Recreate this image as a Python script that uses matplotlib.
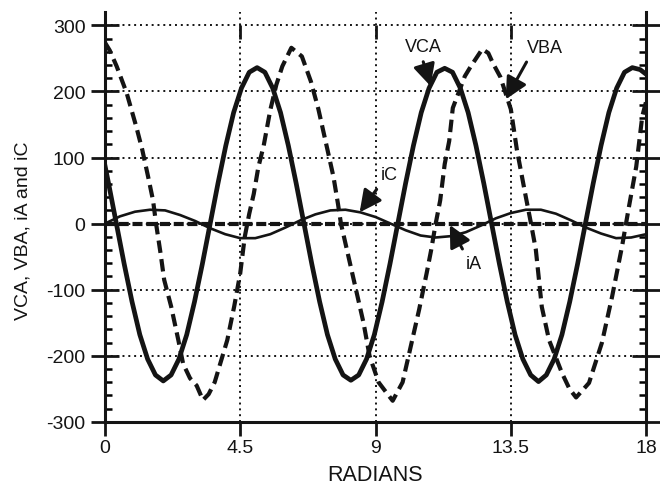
import numpy as np
import matplotlib
matplotlib.use("Agg")
import matplotlib.pyplot as plt

plt.rcParams['font.family'] = ['Liberation Sans', 'DejaVu Sans']
plt.rcParams['axes.unicode_minus'] = False

# --- data (x in radians) ---
vca_x = [0.00, 0.12, 0.38, 0.64, 0.90, 1.16, 1.42, 1.68, 1.94, 2.20, 2.46, 2.72,
         2.98, 3.24, 3.50, 3.76, 4.02, 4.28, 4.54, 4.80, 5.06, 5.32, 5.58, 5.84,
         6.10, 6.36, 6.62, 6.88, 7.14, 7.40, 7.66, 7.92, 8.18, 8.44, 8.70, 8.96,
         9.22, 9.48, 9.74, 10.00, 10.26, 10.52, 10.78, 11.04, 11.30, 11.56, 11.82,
         12.08, 12.34, 12.60, 12.86, 13.12, 13.38, 13.64, 13.90, 14.16, 14.42,
         14.68, 14.94, 15.20, 15.46, 15.72, 15.98, 16.24, 16.50, 16.76, 17.02,
         17.28, 17.54, 17.80, 18.00]
vca = [88, 61, 0, -61, -118, -168, -205, -229, -238, -229, -205, -168,
       -118, -61, 0, 61, 118, 168, 205, 229, 236, 229, 205, 168,
       118, 61, 0, -61, -118, -168, -205, -229, -237, -229, -205, -168,
       -118, -61, 0, 61, 118, 168, 205, 229, 235, 229, 205,
       168, 118, 61, 0, -61, -118, -168, -205, -229, -239,
       -229, -205, -168, -118, -61, 0, 61, 118, 168, 205,
       229, 236, 233, 226]

vba_x = [0.00, 0.16, 0.39, 0.72, 1.04, 1.24, 1.45, 1.60, 1.70, 1.85, 1.97, 2.20,
         2.44, 2.60, 2.83, 3.05, 3.26, 3.45, 3.65, 4.07, 4.30, 4.50, 4.65, 4.80,
         4.95, 5.10, 5.28, 5.50, 5.70, 5.90, 6.20, 6.55, 6.85, 7.10, 7.40, 7.60,
         7.75, 7.85, 8.05, 8.25, 8.45, 8.60, 8.80, 9.10, 9.35, 9.57, 9.90, 10.20,
         10.45, 10.70, 10.85, 11.00, 11.15, 11.30, 11.45, 11.57, 11.97, 12.17,
         12.55, 12.75, 12.90, 13.15, 13.50, 13.70, 14.00, 14.15, 14.33, 14.53,
         14.77, 15.20, 15.45, 15.67, 16.10, 16.53, 16.87, 17.20, 17.43, 17.67,
         17.87, 18.00]
vba = [274, 262, 238, 198, 147, 112, 68, 35, 0, -45, -85, -125,
       -176, -212, -234, -245, -267, -258, -240, -176, -125, -75, -20, 15,
       45, 85, 118, 172, 210, 238, 266, 253, 215, 173, 112, 71,
       30, 0, -40, -80, -120, -150, -200, -240, -255, -268, -240, -180,
       -130, -75, -40, 0, 35, 90, 125, 175, 223, 238,
       264, 258, 243, 222, 173, 112, 40, 5, -39, -126,
       -176, -226, -250, -263, -241, -180, -110, -34, 26, 86,
       162, 185]

ic_x = [0.0, 0.5, 1.0, 1.5, 2.0, 2.5, 3.0, 3.5, 4.0, 4.5, 5.0, 5.5, 6.0, 6.5,
        7.0, 7.5, 8.0, 8.5, 9.0, 9.5, 10.0, 10.5, 11.0, 11.5, 12.0, 12.5, 13.0,
        13.5, 14.0, 14.5, 15.0, 15.5, 16.0, 16.5, 17.0, 17.5, 18.0]
ic = [0, 11, 18, 21, 20, 13, 4, -7, -16, -22, -22, -16, -6, 5,
      14, 20, 21, 17, 10, 0, -10, -18, -21, -19, -13, -3, 8,
      16, 21, 21, 15, 5, -6, -15, -22, -21, -16]

ia_x = [0.0, 18.0]
ia = [0, 0]

xticks = [0, 4.5, 9, 13.5, 18]
xlabels = ['0', '4.5', '9', '13.5', '18']
yticks = [-300, -200, -100, 0, 100, 200, 300]
ylabels = ['-300', '-200', '-100', '0', '100', '200', '300']

# (label, text pos, arrow tip, relpos of arrow start on text)
notes = [('VCA', (10.58, 268), (10.83, 208), (0.45, 0.0)),
         ('VBA', (14.62, 267), (13.33, 188), (0.1, 0.0)),
         ('iC', (9.47, 74), (8.47, 17), (0.0, 0.0)),
         ('iA', (12.27, -61), (11.47, -2), (0.0, 1.0))]

INK = '#141414'

fig = plt.figure(figsize=(6.6, 4.85), dpi=100, facecolor='white')
ax = fig.add_axes([0.159, 0.128, 0.820, 0.845])

ax.set_xlim(0, 18)
ax.set_ylim(-300, 320)

# dotted grid
ax.set_xticks(xticks)
ax.set_xticklabels(xlabels)
ax.set_yticks(yticks)
ax.set_yticklabels(ylabels)
ax.set_yticks(np.arange(-300, 301, 20), minor=True)
ax.grid(True, which='major', color=INK, linestyle=(0, (1, 2)), linewidth=1.4, zorder=0)
ax.set_axisbelow(True)

# curves
ax.plot(ia_x, ia, color=INK, lw=3.0, linestyle=(0, (2.4, 0.9)), zorder=2)
ax.plot(ic_x, ic, color=INK, lw=1.9, zorder=3)
ax.plot(vba_x, vba, color=INK, lw=3.0, linestyle=(0, (3, 1.5)), zorder=4)
ax.plot(vca_x, vca, color=INK, lw=3.4, zorder=5)

# short solid marks hanging from the 300 line
ax.vlines(xticks[1:-1], 280, 300, color=INK, lw=2.0, zorder=3)

for txt, tpos, tip, rp in notes:
    ax.annotate(txt, xy=tip, xytext=tpos, ha='center', va='center',
                fontsize=13, color=INK, zorder=6,
                arrowprops=dict(arrowstyle='-|>,head_length=0.7,head_width=0.35',
                                color=INK, lw=2.2, mutation_scale=19,
                                shrinkA=3, shrinkB=0, relpos=rp))

# spines and ticks
ax.spines['top'].set_visible(False)
for s in ['left', 'right', 'bottom']:
    ax.spines[s].set_linewidth(2.2)
    ax.spines[s].set_color(INK)

ax.tick_params(axis='y', which='major', direction='inout', length=20, width=2,
               left=True, right=True, labelleft=True, labelright=False,
               labelsize=14, pad=4, colors=INK)
ax.tick_params(axis='y', which='minor', direction='in', length=5, width=1.8,
               left=True, right=True)
ax.tick_params(axis='x', which='major', direction='out', length=10, width=2,
               bottom=True, top=False, labelsize=14, pad=2, colors=INK)

ax.set_xlabel('RADIANS', fontsize=15.5, color=INK)
ax.set_ylabel('VCA, VBA, iA and iC', fontsize=14, color=INK)
ax.xaxis.set_label_coords(0.5, -0.103)
ax.yaxis.set_label_coords(-0.136, 0.47)

fig.savefig('out.png', dpi=100, facecolor='white')
